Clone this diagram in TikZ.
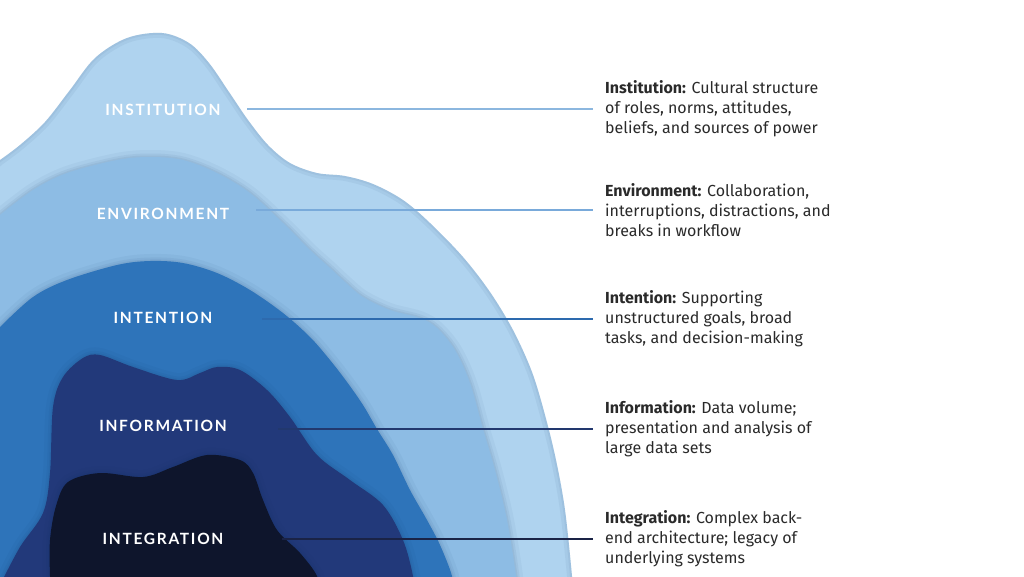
\documentclass[tikz,border=0pt]{standalone}
\usepackage{fontspec}
\setmainfont{Fira Sans}
\newfontfamily\labfont[LetterSpace=11]{Lato}
\definecolor{cInst}{HTML}{AFD3EF}
\definecolor{cEnv}{HTML}{8DBCE4}
\definecolor{cInt}{HTML}{2E74BA}
\definecolor{cInf}{HTML}{22397A}
\definecolor{cIng}{HTML}{0E152C}
\definecolor{shd}{HTML}{0A2A5A}
\definecolor{lInst}{HTML}{8CB7DF}
\definecolor{lEnv}{HTML}{79AADA}
\definecolor{lInt}{HTML}{2D6AAE}
\definecolor{lInf}{HTML}{22386E}
\definecolor{lIng}{HTML}{1A2346}
\definecolor{txt}{HTML}{2A2A2A}
\tikzset{
  shadowed/.style={
    preaction={draw=shd,opacity=0.04,line width=14pt},
    preaction={draw=shd,opacity=0.05,line width=7pt},
    preaction={draw=shd,opacity=0.06,line width=3pt}},
  lab/.style={text=white,font=\labfont\bfseries\fontsize{15.5}{18}\selectfont,inner sep=0pt},
  desc/.style={text=txt,font=\fontsize{16}{20}\selectfont,align=left,inner sep=0pt,anchor=west},
  conn/.style={line width=1.7pt,shorten >=12pt}
}
\def\pInst{(-12,595) -- (-12,170) -- plot[smooth,tension=0.55] coordinates {(0,160) (20,145) (45,122) (70,90) (95,58) (127,38) (162,33) (189,43) (209,63) (229,92) (248,120) (268,145) (290,163) (317,173) (345,176) (373,184) (403,200) (430,223) (463,257) (490,292) (513,330) (532,372) (545,415) (556,460) (565,510) (572,576) (573,595)} -- cycle}
\def\pEnv{(-12,595) -- (-12,222) -- plot[smooth,tension=0.55] coordinates {(0,215) (33,190) (67,173) (117,160) (150,157) (183,160) (217,173) (250,193) (283,223) (310,250) (330,268) (345,282) (363,297) (390,310) (420,318) (437,328) (455,350) (470,383) (483,429) (495,470) (507,520) (516,576) (517,595)} -- cycle}
\def\pInt{(-12,595) -- (-12,335) -- plot[smooth,tension=0.55] coordinates {(0,327) (33,297) (67,280) (117,265) (150,261) (183,263) (217,273) (250,290) (283,313) (310,337) (330,360) (347,382) (363,405) (377,429) (393,455) (410,490) (427,520) (440,545) (452,576) (453,595)} -- cycle}
\def\pInf{(-8,595) -- plot[smooth,tension=0.55] coordinates {(0,585) (20,547) (43,513) (50,473) (53,407) (63,377) (83,358) (100,355) (133,367) (177,380) (200,373) (217,367) (240,370) (267,390) (290,417) (317,455) (350,480) (383,505) (403,540) (413,576) (414,595)} -- cycle}
\def\pIng{(50,595) -- plot[smooth,tension=0.55] coordinates {(50,576) (50,540) (56,506) (68,482) (100,473) (143,477) (173,467) (207,455) (240,460) (253,473) (263,500) (277,530) (300,553) (317,576) (319,595)} -- cycle}
\begin{document}
\begin{tikzpicture}[x=1pt,y=-1pt]
\useasboundingbox (0,0) rectangle (1024,576);
\fill[white] (0,0) rectangle (1024,576);
\begin{scope}
\clip (0,0) rectangle (1024,576);
% Institution layer, with a soft inner edge
\fill[cInst] \pInst;
\begin{scope}
\clip \pInst;
\draw[shd,opacity=0.05,line width=10pt] \pInst;
\draw[shd,opacity=0.05,line width=4pt] \pInst;
\end{scope}
% Environment layer
\fill[cEnv,shadowed] \pEnv;
% Intention layer
\fill[cInt,shadowed] \pInt;
% Information layer
\fill[cInf,shadowed] \pInf;
% Integration layer
\fill[cIng,shadowed] \pIng;
\end{scope}
% labels
\node[lab] (lab1) at (163,110) {INSTITUTION};
\node[lab] (lab2) at (163,214) {ENVIRONMENT};
\node[lab] (lab3) at (163,318) {INTENTION};
\node[lab] (lab4) at (163,426) {INFORMATION};
\node[lab] (lab5) at (163,539) {INTEGRATION};
% descriptions
\node[desc] (t1) at (605,109) {\textbf{Institution:} Cultural structure\\of roles, norms, attitudes,\\beliefs, and sources of power};
\node[desc] (t2) at (605,210) {\textbf{Environment:} Collaboration,\\interruptions, distractions, and\\breaks in workflow};
\node[desc] (t3) at (605,319) {\textbf{Intention:} Supporting\\unstructured goals, broad\\tasks, and decision-making};
\node[desc] (t4) at (605,429) {\textbf{Information:} Data volume;\\presentation and analysis of\\large data sets};
\node[desc] (t5) at (605,539) {\textbf{Integration:} Complex back-\\end architecture; legacy of\\underlying systems};
% connectors
\coordinate (s1) at (247,109);
\coordinate (s2) at (256,210);
\coordinate (s3) at (262,319);
\coordinate (s4) at (278,429);
\coordinate (s5) at (282,539);
\draw[conn,lInst] (s1) -- (t1.west);
\draw[conn,lEnv] (s2) -- (t2.west);
\draw[conn,lInt] (s3) -- (t3.west);
\draw[conn,lInf] (s4) -- (t4.west);
\draw[conn,lIng] (s5) -- (t5.west);
\end{tikzpicture}
\end{document}
